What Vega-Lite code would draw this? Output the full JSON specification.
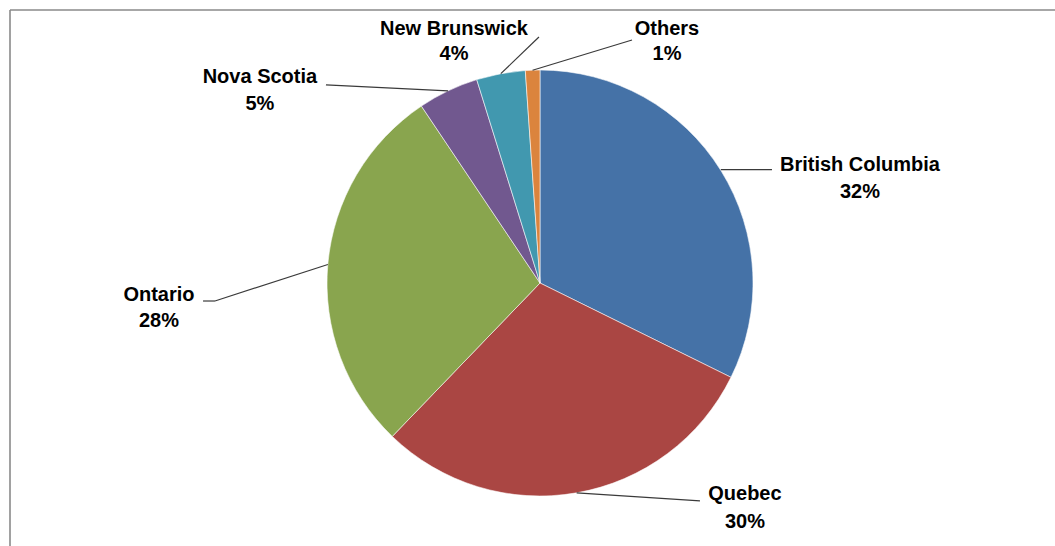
{
  "$schema": "https://vega.github.io/schema/vega-lite/v6.json",
  "width": 1045,
  "height": 536,
  "padding": {"left": 10, "top": 10, "right": 0, "bottom": 0},
  "autosize": {"type": "none"},
  "background": "white",
  "config": {
    "view": {"stroke": null},
    "text": {"font": "Liberation Sans", "fontWeight": "bold", "fontSize": 20, "fill": "#000000", "align": "center", "baseline": "middle"},
    "rule": {"stroke": "#3a3a3a", "strokeWidth": 1.2}
  },
  "data": {
    "values": [
      {"category": "British Columbia", "value": 0.323, "order": 1},
      {"category": "Quebec", "value": 0.299, "order": 2},
      {"category": "Ontario", "value": 0.284, "order": 3},
      {"category": "Nova Scotia", "value": 0.046, "order": 4},
      {"category": "New Brunswick", "value": 0.037, "order": 5},
      {"category": "Others", "value": 0.011, "order": 6}
    ]
  },
  "layer": [
    {
      "mark": {"type": "arc", "outerRadius": 213, "stroke": "#ffffff", "strokeWidth": 0.8, "strokeOpacity": 0.7},
      "encoding": {
        "x": {"datum": 0, "type": "quantitative", "axis": null, "scale": {"domain": [-2.4883, 2.4178], "nice": false, "zero": false}},
        "y": {"datum": 0, "type": "quantitative", "axis": null, "scale": {"domain": [-1.2347, 1.2817], "nice": false, "zero": false}},
        "theta": {"field": "value", "type": "quantitative", "stack": true},
        "order": {"field": "order", "type": "quantitative"},
        "color": {
          "field": "category",
          "type": "nominal",
          "legend": null,
          "scale": {
            "domain": ["British Columbia", "Quebec", "Ontario", "Nova Scotia", "New Brunswick", "Others"],
            "range": ["#4572A7", "#AA4643", "#89A54E", "#71588F", "#4198AF", "#DB843D"]
          }
        }
      }
    },
    {
      "transform": [{"filter": "datum.order == 1"}],
      "mark": {"type": "rule", "stroke": "#8a8a8a", "strokeWidth": 1.6},
      "encoding": {
        "x": {"datum": -2.4883, "type": "quantitative", "axis": null},
        "x2": {"datum": 2.4178},
        "y": {"datum": 1.2817, "type": "quantitative", "axis": null},
        "y2": {"datum": 1.2817}
      }
    },
    {
      "transform": [{"filter": "datum.order == 1"}],
      "mark": {"type": "rule", "stroke": "#8a8a8a", "strokeWidth": 1.6},
      "encoding": {
        "x": {"datum": -2.4883, "type": "quantitative", "axis": null},
        "x2": {"datum": -2.4883},
        "y": {"datum": 1.2817, "type": "quantitative", "axis": null},
        "y2": {"datum": -1.2347}
      }
    },
    {
      "transform": [{"filter": "datum.category == 'British Columbia'"}],
      "mark": {"type": "rule"},
      "encoding": {
        "x": {"datum": 0.849, "type": "quantitative", "axis": null},
        "y": {"datum": 0.532, "type": "quantitative", "axis": null},
        "x2": {"datum": 1.089},
        "y2": {"datum": 0.532}
      }
    },
    {
      "transform": [{"filter": "datum.category == 'Quebec'"}],
      "mark": {"type": "rule"},
      "encoding": {
        "x": {"datum": 0.172, "type": "quantitative", "axis": null},
        "y": {"datum": -0.985, "type": "quantitative", "axis": null},
        "x2": {"datum": 0.751},
        "y2": {"datum": -1.023}
      }
    },
    {
      "transform": [{"filter": "datum.category == 'Ontario'"}],
      "mark": {"type": "rule"},
      "encoding": {
        "x": {"datum": -0.996, "type": "quantitative", "axis": null},
        "y": {"datum": 0.087, "type": "quantitative", "axis": null},
        "x2": {"datum": -1.526},
        "y2": {"datum": -0.0845}
      }
    },
    {
      "transform": [{"filter": "datum.category == 'Ontario'"}],
      "mark": {"type": "rule"},
      "encoding": {
        "x": {"datum": -1.526, "type": "quantitative", "axis": null},
        "y": {"datum": -0.0845, "type": "quantitative", "axis": null},
        "x2": {"datum": -1.582},
        "y2": {"datum": -0.0845}
      }
    },
    {
      "transform": [{"filter": "datum.category == 'Nova Scotia'"}],
      "mark": {"type": "rule"},
      "encoding": {
        "x": {"datum": -0.432, "type": "quantitative", "axis": null},
        "y": {"datum": 0.902, "type": "quantitative", "axis": null},
        "x2": {"datum": -1.005},
        "y2": {"datum": 0.930}
      }
    },
    {
      "transform": [{"filter": "datum.category == 'New Brunswick'"}],
      "mark": {"type": "rule"},
      "encoding": {
        "x": {"datum": -0.184, "type": "quantitative", "axis": null},
        "y": {"datum": 0.983, "type": "quantitative", "axis": null},
        "x2": {"datum": -0.005},
        "y2": {"datum": 1.155}
      }
    },
    {
      "transform": [{"filter": "datum.category == 'Others'"}],
      "mark": {"type": "rule"},
      "encoding": {
        "x": {"datum": -0.035, "type": "quantitative", "axis": null},
        "y": {"datum": 0.999, "type": "quantitative", "axis": null},
        "x2": {"datum": 0.432},
        "y2": {"datum": 1.141}
      }
    },
    {
      "transform": [{"filter": "datum.category == 'British Columbia'"}],
      "mark": {"type": "text"},
      "encoding": {
        "x": {"datum": 1.502, "type": "quantitative", "axis": null},
        "y": {"datum": 0.554, "type": "quantitative", "axis": null},
        "text": {"field": "category", "type": "nominal"}
      }
    },
    {
      "transform": [{"filter": "datum.category == 'British Columbia'"}],
      "mark": {"type": "text"},
      "encoding": {
        "x": {"datum": 1.502, "type": "quantitative", "axis": null},
        "y": {"datum": 0.427, "type": "quantitative", "axis": null},
        "text": {"field": "value", "type": "quantitative", "format": ".0%"}
      }
    },
    {
      "transform": [{"filter": "datum.category == 'Quebec'"}],
      "mark": {"type": "text"},
      "encoding": {
        "x": {"datum": 0.962, "type": "quantitative", "axis": null},
        "y": {"datum": -0.991, "type": "quantitative", "axis": null},
        "text": {"field": "category", "type": "nominal"}
      }
    },
    {
      "transform": [{"filter": "datum.category == 'Quebec'"}],
      "mark": {"type": "text"},
      "encoding": {
        "x": {"datum": 0.962, "type": "quantitative", "axis": null},
        "y": {"datum": -1.122, "type": "quantitative", "axis": null},
        "text": {"field": "value", "type": "quantitative", "format": ".0%"}
      }
    },
    {
      "transform": [{"filter": "datum.category == 'Ontario'"}],
      "mark": {"type": "text"},
      "encoding": {
        "x": {"datum": -1.789, "type": "quantitative", "axis": null},
        "y": {"datum": -0.056, "type": "quantitative", "axis": null},
        "text": {"field": "category", "type": "nominal"}
      }
    },
    {
      "transform": [{"filter": "datum.category == 'Ontario'"}],
      "mark": {"type": "text"},
      "encoding": {
        "x": {"datum": -1.789, "type": "quantitative", "axis": null},
        "y": {"datum": -0.178, "type": "quantitative", "axis": null},
        "text": {"field": "value", "type": "quantitative", "format": ".0%"}
      }
    },
    {
      "transform": [{"filter": "datum.category == 'Nova Scotia'"}],
      "mark": {"type": "text"},
      "encoding": {
        "x": {"datum": -1.315, "type": "quantitative", "axis": null},
        "y": {"datum": 0.967, "type": "quantitative", "axis": null},
        "text": {"field": "category", "type": "nominal"}
      }
    },
    {
      "transform": [{"filter": "datum.category == 'Nova Scotia'"}],
      "mark": {"type": "text"},
      "encoding": {
        "x": {"datum": -1.315, "type": "quantitative", "axis": null},
        "y": {"datum": 0.840, "type": "quantitative", "axis": null},
        "text": {"field": "value", "type": "quantitative", "format": ".0%"}
      }
    },
    {
      "transform": [{"filter": "datum.category == 'New Brunswick'"}],
      "mark": {"type": "text"},
      "encoding": {
        "x": {"datum": -0.404, "type": "quantitative", "axis": null},
        "y": {"datum": 1.192, "type": "quantitative", "axis": null},
        "text": {"field": "category", "type": "nominal"}
      }
    },
    {
      "transform": [{"filter": "datum.category == 'New Brunswick'"}],
      "mark": {"type": "text"},
      "encoding": {
        "x": {"datum": -0.404, "type": "quantitative", "axis": null},
        "y": {"datum": 1.075, "type": "quantitative", "axis": null},
        "text": {"field": "value", "type": "quantitative", "format": ".0%"}
      }
    },
    {
      "transform": [{"filter": "datum.category == 'Others'"}],
      "mark": {"type": "text"},
      "encoding": {
        "x": {"datum": 0.596, "type": "quantitative", "axis": null},
        "y": {"datum": 1.192, "type": "quantitative", "axis": null},
        "text": {"field": "category", "type": "nominal"}
      }
    },
    {
      "transform": [{"filter": "datum.category == 'Others'"}],
      "mark": {"type": "text"},
      "encoding": {
        "x": {"datum": 0.596, "type": "quantitative", "axis": null},
        "y": {"datum": 1.075, "type": "quantitative", "axis": null},
        "text": {"field": "value", "type": "quantitative", "format": ".0%"}
      }
    }
  ]
}
